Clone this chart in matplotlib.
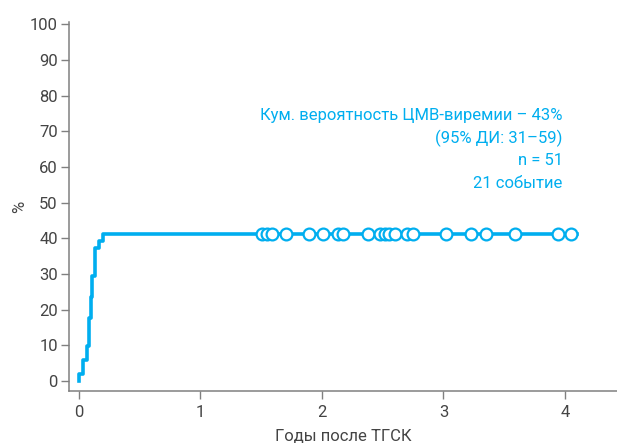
import matplotlib
matplotlib.use("Agg")
import matplotlib.pyplot as plt

# step curve: event times (years) and cumulative incidence (%)
event_years = [0.0, 0.0, 0.03, 0.07, 0.085, 0.095, 0.11, 0.13, 0.165, 0.2, 4.10]
cum_pct = [0.0, 2.0, 5.9, 9.8, 17.6, 23.5, 29.4, 37.3, 39.2, 41.2, 41.2]

# censored observations
censor_years = [1.51, 1.55, 1.59, 1.70, 1.89, 2.01, 2.13, 2.17, 2.38, 2.48, 2.52,
                2.55, 2.60, 2.70, 2.75, 3.02, 3.23, 3.35, 3.59, 3.94, 4.05]
censor_pct = [41.2] * len(censor_years)

x_ticks = [0, 1, 2, 3, 4]
y_ticks = [0, 10, 20, 30, 40, 50, 60, 70, 80, 90, 100]

annot = ["Кум. вероятность ЦМВ-виремии – 43%",
         "(95% ДИ: 31–59)",
         "n = 51",
         "21 событие"]

blue = "#00AEEF"
grey = "#808080"
txt = "#444444"

plt.rcParams["font.family"] = ["Roboto", "DejaVu Sans"]

fig = plt.figure(figsize=(6.17, 4.43), dpi=100)
ax = fig.add_axes([69 / 617, 52 / 443, 548 / 617, 369 / 443])

ax.step(event_years, cum_pct, where="post", color=blue, lw=2.6, zorder=2)
ax.plot(censor_years, censor_pct, "o", ms=8.5, mfc="white", mec=blue, mew=1.6,
        zorder=3, clip_on=False)

ax.set_xlim(-0.082, 4.428)
ax.set_ylim(-2.8, 100.6)
ax.set_xticks(x_ticks)
ax.set_yticks(y_ticks)

for s in ["top", "right"]:
    ax.spines[s].set_visible(False)
for s in ["left", "bottom"]:
    ax.spines[s].set_color(grey)
    ax.spines[s].set_linewidth(1.1)

ax.tick_params(axis="both", length=6, width=1.0, color=grey, labelsize=12,
               labelcolor=txt, direction="out", pad=2)
ax.tick_params(axis="x", pad=4)

ax.set_xlabel("Годы после ТГСК", fontsize=12, color=txt, labelpad=6)
ax.set_ylabel("%", fontsize=12, color=txt, labelpad=2)

for i, line in enumerate(annot):
    ax.text(3.98, 74.5 - i * 6.4, line, ha="right", va="center", fontsize=12,
            color=blue)

fig.savefig("out.png", dpi=100)
